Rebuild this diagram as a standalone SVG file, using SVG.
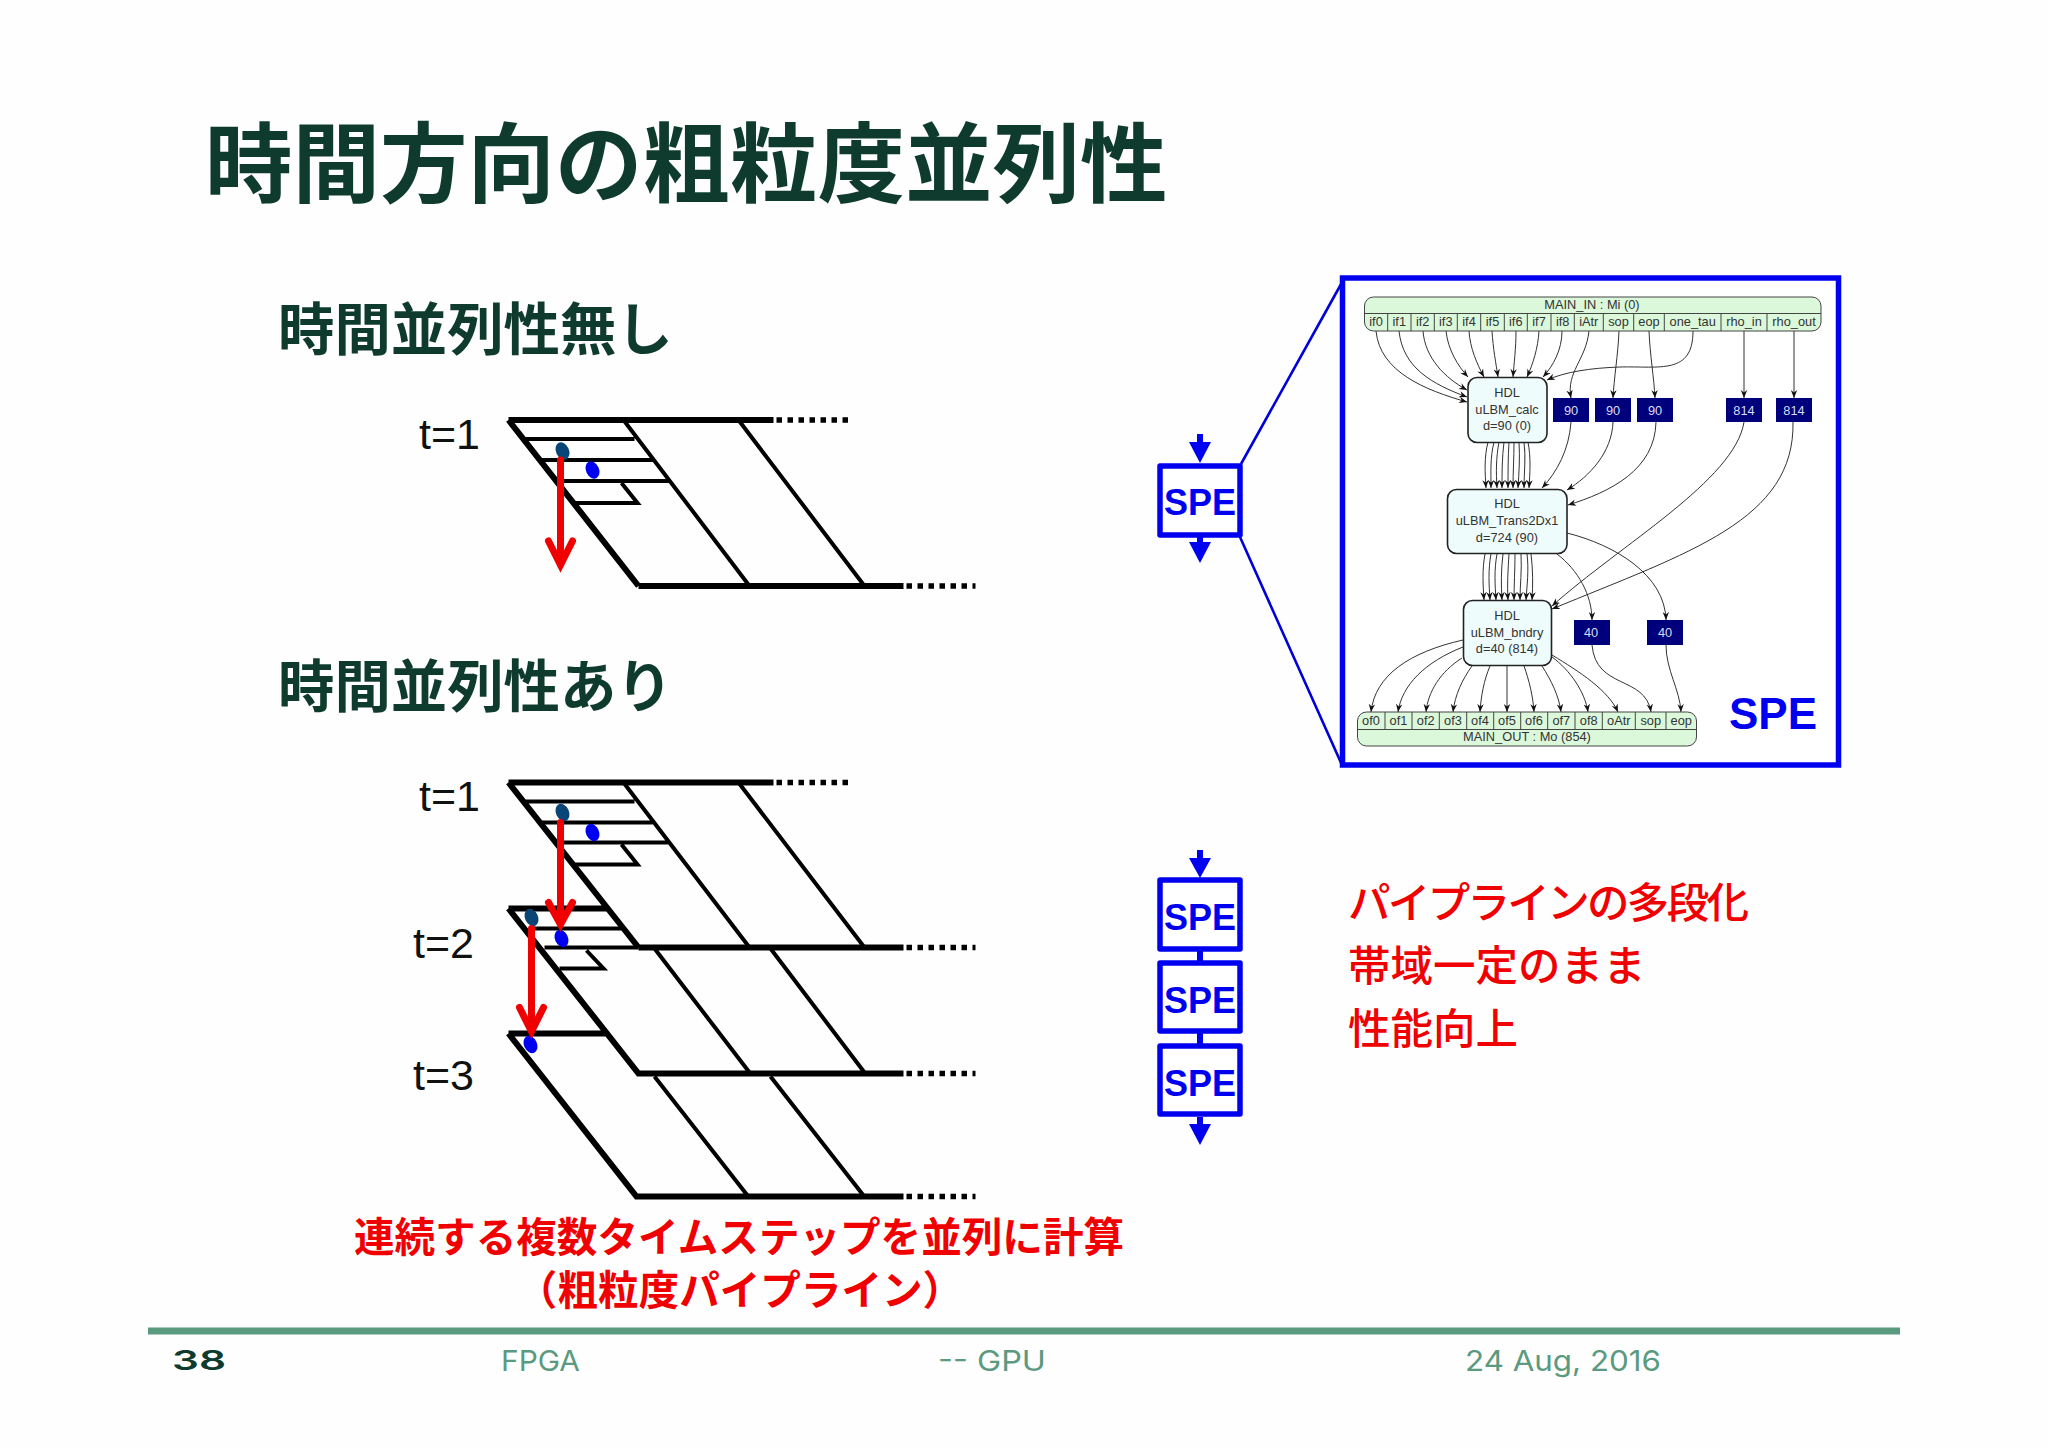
<svg xmlns="http://www.w3.org/2000/svg" width="2048" height="1448" viewBox="0 0 2048 1448">
<style>
.jp{font-family:"Noto Sans CJK JP","Noto Sans CJK SC",sans-serif}
.title{font-size:87.5px;font-weight:700;fill:#0e3b2e}
.sub{font-size:56.4px;font-weight:700;fill:#0e3b2e}
.red1{font-size:40.6px;font-weight:700;fill:#f00000}
.red2{font-size:42.5px;font-weight:500;fill:#f00000}
.t{font-family:"Liberation Sans",Arial,sans-serif;font-size:43px;fill:#111}
.foot{font-family:Inter,"Liberation Sans",sans-serif;font-size:29px;fill:#5a9a7e}
.num{font-family:Inter,"Liberation Sans",sans-serif;font-size:27px;font-weight:600;fill:#0e3b2e}
.th{stroke:#000;stroke-width:6;fill:none}
.me{stroke:#000;stroke-width:4;fill:none}
.dot{stroke:#000;stroke-width:5.5;stroke-dasharray:5.5 5.5;fill:none}
.arrow{stroke:#f00000;stroke-width:7;fill:none;stroke-linecap:round;stroke-linejoin:miter}
.spebox{fill:#fff;stroke:#0000f0;stroke-width:5.5;stroke-linejoin:round}
.spe{font-family:"Liberation Sans",Arial,sans-serif;font-weight:700;font-size:36px;fill:#0000f0;text-anchor:middle}
.bl{fill:#0000f0}
.g{font-family:"Liberation Sans",Arial,sans-serif;font-size:12.8px;fill:#333;text-anchor:middle}
.w{font-family:"Liberation Sans",Arial,sans-serif;font-size:12.8px;fill:#d8dcf4;text-anchor:middle}
.tbl{fill:#dbf8db;stroke:#444;stroke-width:1}
.sep{stroke:#444;stroke-width:1;fill:none}
.hdl{fill:#effcfc;stroke:#222;stroke-width:1.6}
.navy{fill:#00007c}
.e{fill:none;stroke:#333;stroke-width:1;marker-end:url(#v)}
</style>
<defs>
<marker id="v" markerUnits="userSpaceOnUse" markerWidth="8" markerHeight="8" viewBox="0 0 8 8" refX="8" refY="4" orient="auto"><path d="M0 .8L8 4L0 7.2L2.5 4z" fill="#111"/></marker>
</defs>
<rect width="2048" height="1448" fill="#fefefe"/>
<text class="jp title" x="205" y="196">時間方向の粗粒度並列性</text>
<text class="jp sub" x="278" y="350">時間並列性無し</text>
<text class="jp sub" x="278" y="707">時間並列性あり</text>

<text class="t" x="419" y="449">t=1</text>
<text class="t" x="419" y="811">t=1</text>
<text class="t" x="413" y="958">t=2</text>
<text class="t" x="413" y="1090">t=3</text>

<g id="grid-single" transform="translate(-1.500 1)">
<path class="th" d="M510 419H775M640 585H905M510 419L640 585"/>
<path class="dot" d="M778 419H851M908 585H977"/>
<path class="me" d="M625 419L751 585M740 419L866 585M527 438H636M543 459H654M560 480H670M623 482L639 502H575"/>
<ellipse cx="564" cy="450" rx="6.5" ry="9" transform="rotate(-25 564 450)" fill="#0a4578"/>
<ellipse cx="594" cy="469" rx="6.5" ry="9" transform="rotate(-25 594 469)" fill="#0000f0"/>
<path class="arrow" d="M562 459V564M550 540L562 564L574 540"/>
</g>

<g id="grid-parallel" transform="translate(-1.500 .5)">
<path class="th" d="M510 782H775M640 947H905M510 782L640 947M510 908H610M510 908L640 1073H905M510 1033H609M510 1033L638 1196H905"/>
<path class="dot" d="M778 782H851M908 947H977M908 1073H977M908 1196H977"/>
<path class="me" d="M625 782L751 947M740 782L866 947M527 801H636M543 822H654M560 842H670M623 844L639 864H575M535 928H623M546 947H640M656 948L751 1072M772 948L866 1072M588 950L605 968H561M656 1076L749 1195M772 1076L865 1195"/>
<ellipse cx="564" cy="812" rx="6.5" ry="9" transform="rotate(-25 564 812)" fill="#0a4578"/>
<ellipse cx="594" cy="832" rx="6.5" ry="9" transform="rotate(-25 594 832)" fill="#0000f0"/>
<ellipse cx="533" cy="917" rx="6.5" ry="9" transform="rotate(-25 533 917)" fill="#0a4578"/>
<ellipse cx="563" cy="938" rx="6.5" ry="9" transform="rotate(-25 563 938)" fill="#0000f0"/>
<ellipse cx="532" cy="1044" rx="6.5" ry="9" transform="rotate(-25 532 1044)" fill="#0000f0"/>
<path class="arrow" d="M562 822V924M550 902L562 924L574 902"/>
<path class="arrow" d="M533 928V1031M521 1007L533 1031L545 1007"/>
</g>

<text class="jp red1" x="739" y="1252" text-anchor="middle">連続する複数タイムステップを並列に計算</text>
<text class="jp red1" x="740" y="1305" text-anchor="middle">（粗粒度パイプライン）</text>
<text class="jp red2" x="1348" y="918" textLength="401" lengthAdjust="spacing">パイプラインの多段化</text>
<text class="jp red2" x="1348" y="981">帯域一定のまま</text>
<text class="jp red2" x="1348" y="1044">性能向上</text>

<g id="spe-single">
<path d="M1241 464L1345 277M1240 537L1342 765" stroke="#0000d8" stroke-width="2.6" fill="none"/>
<rect class="spebox" x="1160" y="466" width="80" height="69"/>
<text class="spe" x="1200" y="515">SPE</text>
<path class="bl" d="M1197 434H1203V442H1211L1200 463L1189 442H1197z"/>
<path class="bl" d="M1197 537H1203V542H1211L1200 563L1189 542H1197z"/>
</g>

<g id="spe-triple">
<path class="bl" d="M1197 850H1203V858H1211L1200 878L1189 858H1197z"/>
<rect class="bl" x="1197" y="951" width="6" height="12"/>
<rect class="bl" x="1197" y="1033" width="6" height="12"/>
<path class="bl" d="M1197 1117H1203V1124H1211L1200 1145L1189 1124H1197z"/>
<rect class="spebox" x="1160" y="880" width="80" height="69"/>
<rect class="spebox" x="1160" y="963" width="80" height="68"/>
<rect class="spebox" x="1160" y="1046" width="80" height="68"/>
<text class="spe" x="1200" y="930">SPE</text>
<text class="spe" x="1200" y="1013">SPE</text>
<text class="spe" x="1200" y="1096">SPE</text>
</g>

<rect x="1342.500" y="278" width="496" height="487" fill="#fff" stroke="#0000f0" stroke-width="5.500"/>
<text x="1729" y="729" font-family="Liberation Sans,Arial,sans-serif" font-weight="700" font-size="44" fill="#0000f0">SPE</text>

<g id="connectors">
<path class="e" d="M1376 331C1380 372 1425 390 1467 402"/>
<path class="e" d="M1399 331C1403 368 1432 384 1467 397"/>
<path class="e" d="M1423 331C1425 358 1445 378 1467 390"/>
<path class="e" d="M1446 331C1448 350 1458 366 1468 377"/>
<path class="e" d="M1469 331C1470 348 1477 364 1484 377"/>
<path class="e" d="M1492 331C1493 348 1496 364 1498 377"/>
<path class="e" d="M1516 331C1516 348 1514 364 1513 377"/>
<path class="e" d="M1539 331C1538 348 1533 364 1527 377"/>
<path class="e" d="M1562 331C1562 350 1553 366 1543 377"/>
<path class="e" d="M1693 331C1693 375 1660 366 1620 367C1590 368 1565 372 1547 380"/>
<path class="e" d="M1589 331C1586 360 1566 372 1571 398"/>
<path class="e" d="M1619 331C1618 355 1614 378 1613 398"/>
<path class="e" d="M1649 331C1650 355 1654 378 1655 398"/>
<path class="e" d="M1744 331V398"/>
<path class="e" d="M1794 331V398"/>
<path class="e" d="M1571 422C1569 450 1557 472 1542 488"/>
<path class="e" d="M1613 422C1612 452 1590 476 1567 490"/>
<path class="e" d="M1656 422C1655 470 1610 492 1568 505"/>
<path class="e" d="M1744 422C1735 480 1620 545 1552 606"/>
<path class="e" d="M1793 422C1795 520 1690 552 1552 609"/>
<path class="e" d="M1488 442C1484 458 1485 472 1486 488"/>
<path class="e" d="M1494 442C1490 458 1491 472 1491 488"/>
<path class="e" d="M1499 442C1496 458 1496 472 1497 488"/>
<path class="e" d="M1504 442C1502 458 1502 472 1502 488"/>
<path class="e" d="M1509 442C1508 458 1508 472 1508 488"/>
<path class="e" d="M1514 442C1514 458 1513 472 1513 488"/>
<path class="e" d="M1519 442C1520 458 1519 472 1518 488"/>
<path class="e" d="M1524 442C1526 458 1524 472 1524 488"/>
<path class="e" d="M1528 442C1531 458 1530 472 1529 488"/>
<path class="e" d="M1485 554C1482 570 1483 585 1484 600"/>
<path class="e" d="M1491 554C1488 570 1489 585 1490 600"/>
<path class="e" d="M1497 554C1494 570 1495 585 1496 600"/>
<path class="e" d="M1503 554C1501 570 1501 585 1502 600"/>
<path class="e" d="M1509 554C1508 570 1507 585 1508 600"/>
<path class="e" d="M1515 554C1515 570 1514 585 1514 600"/>
<path class="e" d="M1521 554C1522 570 1520 585 1520 600"/>
<path class="e" d="M1527 554C1529 570 1527 585 1526 600"/>
<path class="e" d="M1531 554C1533 570 1533 585 1532 600"/>
<path class="e" d="M1557 554C1578 570 1592 595 1592 620"/>
<path class="e" d="M1567 533C1615 545 1665 575 1666 620"/>
<path class="e" d="M1463 640C1410 652 1375 675 1371 712"/>
<path class="e" d="M1463 647C1425 662 1402 685 1398 712"/>
<path class="e" d="M1462 658C1440 672 1428 692 1426 712"/>
<path class="e" d="M1472 666C1462 680 1455 695 1453 712"/>
<path class="e" d="M1490 666C1484 680 1481 696 1480 712"/>
<path class="e" d="M1507 666V712"/>
<path class="e" d="M1524 666C1529 680 1533 696 1534 712"/>
<path class="e" d="M1542 666C1551 680 1559 696 1561 712"/>
<path class="e" d="M1552 657C1570 670 1585 692 1588 712"/>
<path class="e" d="M1552 655C1580 672 1608 690 1618 712"/>
<path class="e" d="M1592 645C1596 690 1645 675 1651 712"/>
<path class="e" d="M1666 645C1666 670 1680 690 1681 712"/>
</g>

<g id="MAIN_IN">
<rect class="tbl" x="1364.500" y="297" width="456.500" height="34" rx="9"/>
<path class="sep" d="M1364.500 313.500H1821M1387.700 313.500V331M1411 313.500V331M1434.300 313.500V331M1457.300 313.500V331M1480.700 313.500V331M1504.300 313.500V331M1527.300 313.500V331M1551 313.500V331M1574.300 313.500V331M1603.300 313.500V331M1633.700 313.500V331M1664.300 313.500V331M1721 313.500V331M1767 313.500V331"/>
<text class="g" x="1592" y="309">MAIN_IN : Mi (0)</text>
<text class="g" x="1376" y="325.500">if0</text><text class="g" x="1399.300" y="325.500">if1</text><text class="g" x="1422.700" y="325.500">if2</text><text class="g" x="1445.800" y="325.500">if3</text><text class="g" x="1469" y="325.500">if4</text><text class="g" x="1492.500" y="325.500">if5</text><text class="g" x="1515.800" y="325.500">if6</text><text class="g" x="1539" y="325.500">if7</text><text class="g" x="1562.700" y="325.500">if8</text><text class="g" x="1588.800" y="325.500">iAtr</text><text class="g" x="1618.500" y="325.500">sop</text><text class="g" x="1649" y="325.500">eop</text><text class="g" x="1692.700" y="325.500">one_tau</text><text class="g" x="1744" y="325.500">rho_in</text><text class="g" x="1794" y="325.500">rho_out</text>
</g>

<g id="uLBM_calc"><rect class="hdl" x="1468" y="377.500" width="79" height="65" rx="9"/><text class="g" x="1507" y="397">HDL</text><text class="g" x="1507" y="413.500">uLBM_calc</text><text class="g" x="1507" y="430">d=90 (0)</text></g>
<g id="uLBM_Trans2Dx1"><rect class="hdl" x="1447.500" y="489.500" width="119.500" height="64" rx="9"/><text class="g" x="1507" y="508">HDL</text><text class="g" x="1507" y="525">uLBM_Trans2Dx1</text><text class="g" x="1507" y="542">d=724 (90)</text></g>
<g id="uLBM_bndry"><rect class="hdl" x="1463.500" y="600.500" width="88" height="65" rx="9"/><text class="g" x="1507" y="619.500">HDL</text><text class="g" x="1507" y="636.500">uLBM_bndry</text><text class="g" x="1507" y="653">d=40 (814)</text></g>

<g id="delay-nodes">
<rect class="navy" x="1553" y="398" width="36" height="24"/><text class="w" x="1571" y="414.500">90</text>
<rect class="navy" x="1595" y="398" width="36" height="24"/><text class="w" x="1613" y="414.500">90</text>
<rect class="navy" x="1637" y="398" width="36" height="24"/><text class="w" x="1655" y="414.500">90</text>
<rect class="navy" x="1726" y="398" width="36" height="24"/><text class="w" x="1744" y="414.500">814</text>
<rect class="navy" x="1776" y="398" width="36" height="24"/><text class="w" x="1794" y="414.500">814</text>
<rect class="navy" x="1574" y="620" width="36" height="25"/><text class="w" x="1591" y="637">40</text>
<rect class="navy" x="1647" y="620" width="36" height="25"/><text class="w" x="1665" y="637">40</text>
</g>

<g id="MAIN_OUT">
<rect class="tbl" x="1357.500" y="712" width="339" height="34" rx="9"/>
<path class="sep" d="M1357.500 729.500H1696.500M1385 712V729.500M1412 712V729.500M1439.300 712V729.500M1466.700 712V729.500M1493.700 712V729.500M1520.700 712V729.500M1547.700 712V729.500M1575 712V729.500M1602.300 712V729.500M1635.300 712V729.500M1666 712V729.500"/>
<text class="g" x="1371" y="724.500">of0</text><text class="g" x="1398.500" y="724.500">of1</text><text class="g" x="1425.700" y="724.500">of2</text><text class="g" x="1453" y="724.500">of3</text><text class="g" x="1480" y="724.500">of4</text><text class="g" x="1507" y="724.500">of5</text><text class="g" x="1534" y="724.500">of6</text><text class="g" x="1561.300" y="724.500">of7</text><text class="g" x="1588.700" y="724.500">of8</text><text class="g" x="1618.800" y="724.500">oAtr</text><text class="g" x="1650.700" y="724.500">sop</text><text class="g" x="1681.300" y="724.500">eop</text>
<text class="g" x="1527" y="741">MAIN_OUT : Mo (854)</text>
</g>

<rect x="148" y="1327.500" width="1752" height="7" fill="#5a9a7e"/>
<text class="num" x="172" y="1370" textLength="54" lengthAdjust="spacingAndGlyphs">38</text>
<text class="foot" x="501" y="1371" textLength="79" lengthAdjust="spacingAndGlyphs">FPGA</text>
<text class="foot" x="938" y="1371" textLength="108" lengthAdjust="spacingAndGlyphs">-- GPU</text>
<text class="foot" x="1465" y="1371" textLength="196" lengthAdjust="spacingAndGlyphs">24 Aug, 2016</text>
</svg>
